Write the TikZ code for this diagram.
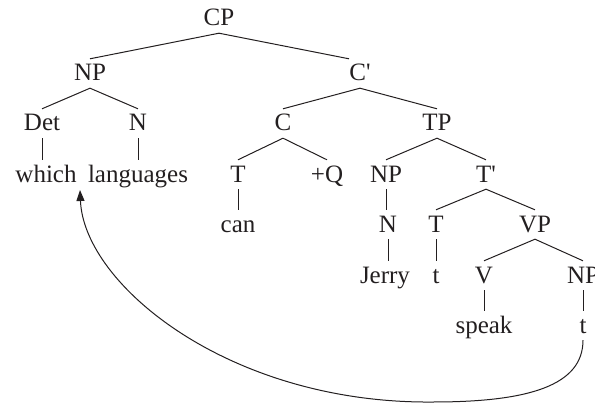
\documentclass[tikz,border=0pt]{standalone}
\usepackage{fontspec}
\setmainfont{Liberation Serif}[Ligatures=TeXOff]
\usetikzlibrary{arrows.meta}
\definecolor{ink}{HTML}{231F20}
\begin{document}
\begin{tikzpicture}[x=1pt,y=-1pt,
  lab/.style={inner xsep=1pt, inner ysep=7pt, text height=15pt, text depth=0pt,
              anchor=base, font=\fontsize{25}{25}\selectfont, text=ink},
  branch/.style={draw=ink, line width=1pt},
  movement/.style={draw=ink, line width=1pt, -{Triangle[length=11pt,width=8pt]}}]
\useasboundingbox (0,0) rectangle (595,412);
\clip (0,0) rectangle (595,412);

% labels, placed on their baselines
\node[lab] (CP)    at (219,26)  {CP};
\node[lab] (NPa)   at (90,81)   {NP};
\node[lab] (Cbar)  at (360,81)  {C'};
\node[lab] (Det)   at (42,131)  {Det};
\node[lab] (Na)    at (138,131) {N};
\node[lab] (C)     at (283,131) {C};
\node[lab] (TP)    at (437,131) {TP};
\node[lab] (which) at (46,182)  {which};
\node[lab] (lang)  at (138,182) {languages};
\node[lab] (Ta)    at (238,182) {T};
\node[lab] (Q)     at (327,182) {+Q};
\node[lab] (NPb)   at (386,182) {NP};
\node[lab] (Tbar)  at (486,182) {T'};
\node[lab] (can)   at (238,232) {can};
\node[lab] (Nb)    at (388,232) {N};
\node[lab] (Tb)    at (436,232) {T};
\node[lab] (VP)    at (535,232) {VP};
\node[lab] (Jerry) at (385,283) {Jerry};
\node[lab] (ta)    at (436,283) {t};
\node[lab] (V)     at (484,283) {V};
\node[lab] (NPc)   at (583,283) {NP};
\node[lab] (speak) at (484,333) {speak};
\node[lab] (tb)    at (583,333) {t};

% branches
\draw[branch] (CP.south) -- (NPa.north);
\draw[branch] (CP.south) -- ([xshift=-11pt]Cbar.north);
\draw[branch] (NPa.south) -- (Det.north);
\draw[branch] (NPa.south) -- (Na.north);
\draw[branch] (Det.south) -- (Det.south |- which.north);
\draw[branch] (Na.south) -- (Na.south |- lang.north);
\draw[branch] (Cbar.south) -- (C.north);
\draw[branch] (Cbar.south) -- (TP.north);
\draw[branch] (C.south) -- (Ta.north);
\draw[branch] (C.south) -- (Q.north);
\draw[branch] (Ta.south) -- (Ta.south |- can.north);
\draw[branch] (TP.south) -- (NPb.north);
\draw[branch] (TP.south) -- (Tbar.north);
\draw[branch] (NPb.south) -- (NPb.south |- Nb.north);
\draw[branch] (Nb.south) -- (Nb.south |- Jerry.north);
\draw[branch] (Tbar.south) -- (Tb.north);
\draw[branch] (Tbar.south) -- (VP.north);
\draw[branch] (Tb.south) -- (Tb.south |- ta.north);
\draw[branch] (VP.south) -- (V.north);
\draw[branch] (VP.south) -- (NPc.north);
\draw[branch] (V.south) -- (V.south |- speak.north);
\draw[branch] (NPc.south) -- (NPc.south |- tb.north);

% movement of the object to the front
\coordinate (landing) at (80,190);
\draw[movement] (tb.south) .. controls (583,385) and (530,402) .. (433,402)
  .. controls (230,404) and (84,285) .. (landing);
\end{tikzpicture}
\end{document}
